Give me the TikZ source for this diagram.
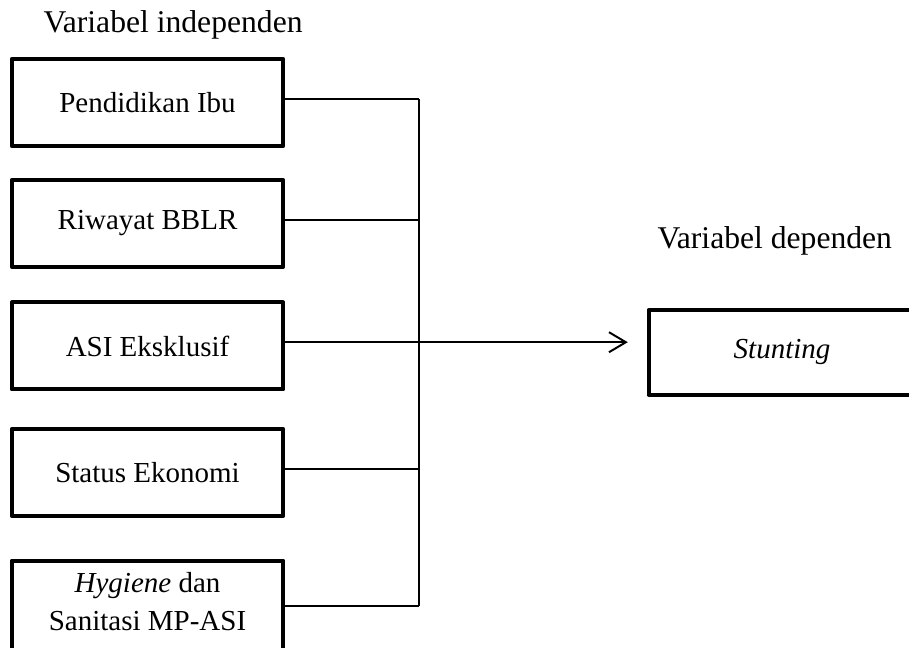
\documentclass[tikz,border=0pt]{standalone}
\usepackage{fontspec}
\setmainfont{Liberation Serif}
\usetikzlibrary{arrows.meta}
\begin{document}
\begin{tikzpicture}
  [
    varbox/.style={draw, line width=1.5pt, line join=round, minimum width=3.62cm,
      minimum height=1.16cm, align=center, font=\fontsize{11}{14.4}\selectfont},
    heading/.style={anchor=base west, inner sep=0pt, font=\fontsize{12}{14}\selectfont},
    link/.style={line width=0.75pt}
  ]
  \useasboundingbox (0,0) rectangle (12.12,8.64);
  % headings
  \node [heading] (indep) at (0.573,8.2) {Variabel independen};
  \node [heading] (dep) at (8.76,5.333) {Variabel dependen};
  % independent variables
  \node [varbox] (pend) at (1.967,7.273) {Pendidikan Ibu};
  \node [varbox] (bblr) at (1.967,5.66) {Riwayat BBLR};
  \node [varbox] (asi) at (1.967,4.027) {ASI Eksklusif};
  \node [varbox] (ekon) at (1.967,2.34) {Status Ekonomi};
  \node [varbox, anchor=north, minimum height=1.3cm, text depth=0.22cm] (hyg) at (1.967,1.19)
    {\textit{Hygiene} dan\\Sanitasi MP-ASI};
  % dependent variable
  \node [varbox, minimum width=3.8cm, minimum height=1.13cm] (stunt) at (10.547,3.94)
    {\textit{Stunting}\hspace*{0.24cm}};
  % connectors
  \coordinate (bus) at (5.587,0);
  \foreach \b in {pend,bblr,asi,ekon,hyg} {
    \coordinate (\b-out) at ([yshift=0.05cm]\b.east);
    \draw [link] (\b-out) -- (\b-out -| bus);
  }
  \draw [link] (pend-out -| bus) -- (hyg-out -| bus);
  \draw [link, -{Straight Barb[length=6.4pt,width=7.6pt]}, shorten >=0.25cm]
    (asi-out -| bus) -- (stunt.west |- asi-out);
\end{tikzpicture}
\end{document}
